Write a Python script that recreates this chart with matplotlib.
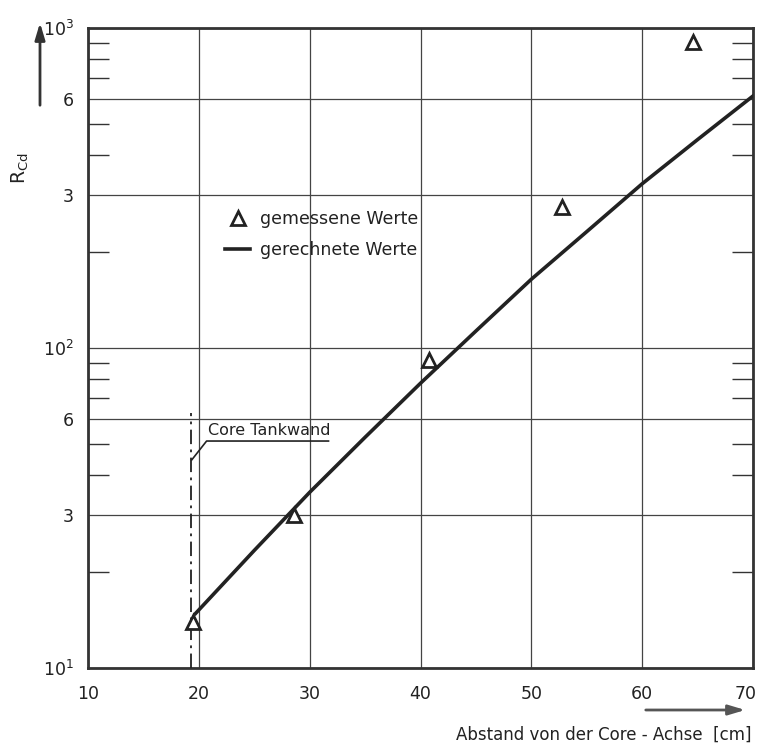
import matplotlib
matplotlib.use("Agg")
import matplotlib.pyplot as plt
import matplotlib.transforms as mtransforms
from matplotlib.ticker import FixedLocator, NullFormatter

plt.rcParams['font.family'] = ['DejaVu Sans']

# measured values (triangles)
meas_x = [19.5, 28.6, 40.8, 52.75, 64.6]
meas_y = [13.9, 30.0, 92.0, 275.0, 905.0]

# calculated curve
calc_x = [19.7, 25, 30, 35, 40, 45, 50, 55, 60, 65, 70]
calc_y = [14.8, 23.3, 35.4, 52.6, 77.6, 113.0, 164.0, 231.0, 326.0, 448.0, 613.0]

# core tank wall marker
wall_x = [19.3, 19.3]
wall_y = [10.0, 62.6]
leader_x = [19.36, 20.7, 31.7]
leader_y = [44.7, 51.2, 51.2]

x_ticks = [10, 20, 30, 40, 50, 60, 70]
y_major = [10, 30, 60, 100, 300, 600, 1000]
y_major_labels = ['$10^1$', '3', '6', '$10^2$', '3', '6', '$10^3$']
y_minor = [20, 40, 50, 70, 80, 90, 200, 400, 500, 700, 800, 900]

W, H = 762, 753
fig = plt.figure(figsize=(W / 100, H / 100), dpi=100)
ax = fig.add_axes([88 / W, (H - 668) / H, (753 - 88) / W, (668 - 28) / H])

ax.set_yscale('log')
ax.set_xlim(10, 70)
ax.set_ylim(10, 1000)

ax.set_xticks(x_ticks)
ax.set_xticklabels([str(v) for v in x_ticks])
ax.yaxis.set_major_locator(FixedLocator(y_major))
ax.set_yticklabels(y_major_labels)
ax.yaxis.set_minor_locator(FixedLocator(y_minor))
ax.yaxis.set_minor_formatter(NullFormatter())

ax.tick_params(axis='both', which='major', length=0, labelsize=12.5, colors='#222222')
ax.tick_params(axis='x', which='major', pad=12)
ax.tick_params(axis='y', which='major', pad=10)
ax.tick_params(axis='y', which='minor', direction='in', length=15, width=1.0,
               left=True, right=True, color='#333333')
ax.tick_params(axis='x', which='minor', length=0)

# keep the last x label inside the canvas like the reference
last = ax.get_xticklabels()[-1]
last.set_transform(last.get_transform() +
                   mtransforms.ScaledTranslation(-7 / 100, 0, fig.dpi_scale_trans))

ax.grid(True, which='major', color='#444444', linewidth=0.9)
for s in ax.spines.values():
    s.set_linewidth(2.0)
    s.set_color('#333333')

line, = ax.plot(calc_x, calc_y, color='#222222', linewidth=2.6, zorder=3,
                label='gerechnete Werte')
pts, = ax.plot(meas_x, meas_y, linestyle='none', marker='^', markersize=10,
               markerfacecolor='white', markeredgecolor='#222222',
               markeredgewidth=2.0, zorder=4, label='gemessene Werte')

ax.plot(wall_x, wall_y, color='#222222', linewidth=1.3, linestyle=(0, (8, 3, 1.5, 3)),
        zorder=3)
ax.plot(leader_x, leader_y, color='#222222', linewidth=1.2, zorder=3)
ax.text(20.8, 52.3, 'Core Tankwand', fontsize=11.5, color='#222222',
        ha='left', va='bottom', zorder=4)

leg = ax.legend(handles=[pts, line], loc='upper left',
                bbox_to_anchor=(225 / W, (H - 210) / H), bbox_transform=fig.transFigure,
                frameon=False, fontsize=12.5, handlelength=1.45, handletextpad=0.55,
                labelspacing=0.75, borderpad=0, borderaxespad=0)
for t in leg.get_texts():
    t.set_color('#222222')

# axis labels and arrows
fig.text(20 / W, (H - 168) / H, r'R$_{\mathrm{Cd}}$', rotation=90, fontsize=13.5,
         ha='center', va='center', color='#222222')
ax.annotate('', xy=(40, H - 20), xytext=(40, H - 108), xycoords='figure pixels',
            textcoords='figure pixels',
            arrowprops=dict(arrowstyle='-|>,head_length=1.0,head_width=0.3',
                            color='#333333', linewidth=2))
ax.annotate('', xy=(748, H - 710), xytext=(643, H - 710), xycoords='figure pixels',
            textcoords='figure pixels',
            arrowprops=dict(arrowstyle='-|>,head_length=1.0,head_width=0.3',
                            color='#555555', linewidth=2))
fig.text(752 / W, (H - 735) / H, 'Abstand von der Core - Achse  [cm]', fontsize=12,
         ha='right', va='center', color='#222222')

fig.savefig('out.png', dpi=100)
